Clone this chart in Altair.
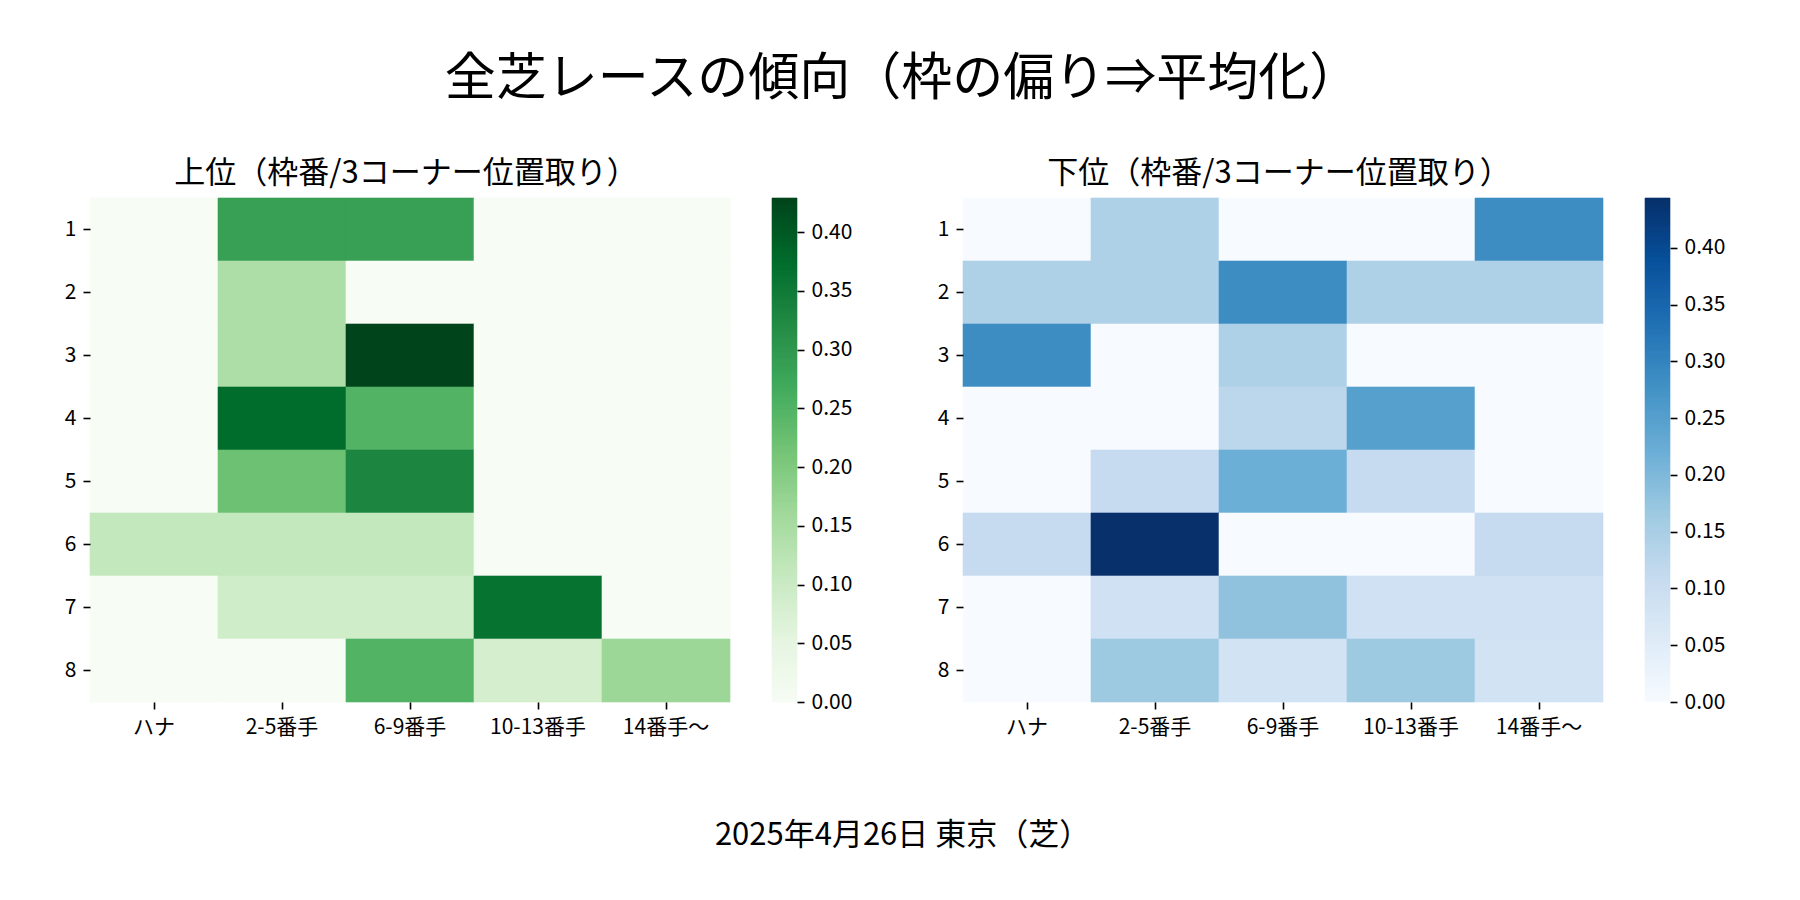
import altair as alt
import pandas as pd

FONT = "Noto Sans CJK JP"

suptitle = "全芝レースの傾向（枠の偏り⇒平均化）"
footer = "2025年4月26日 東京（芝）"
title_top = "上位（枠番/3コーナー位置取り）"
title_bottom = "下位（枠番/3コーナー位置取り）"

frames = ["1", "2", "3", "4", "5", "6", "7", "8"]
positions = ["ハナ", "2-5番手", "6-9番手", "10-13番手", "14番手〜"]

# rows = frame 1..8, columns = positions
top_vals = [
    [0.0, 0.286, 0.286, 0.0, 0.0],
    [0.0, 0.143, 0.0, 0.0, 0.0],
    [0.0, 0.143, 0.429, 0.0, 0.0],
    [0.0, 0.375, 0.250, 0.0, 0.0],
    [0.0, 0.222, 0.333, 0.0, 0.0],
    [0.111, 0.111, 0.111, 0.0, 0.0],
    [0.0, 0.091, 0.091, 0.364, 0.0],
    [0.0, 0.0, 0.250, 0.083, 0.167],
]
bottom_vals = [
    [0.0, 0.143, 0.0, 0.0, 0.286],
    [0.143, 0.143, 0.286, 0.143, 0.143],
    [0.286, 0.0, 0.143, 0.0, 0.0],
    [0.0, 0.0, 0.125, 0.250, 0.0],
    [0.0, 0.111, 0.222, 0.111, 0.0],
    [0.111, 0.444, 0.0, 0.0, 0.111],
    [0.0, 0.091, 0.182, 0.091, 0.091],
    [0.0, 0.167, 0.083, 0.167, 0.083],
]

cbar_ticks_top = [0.0, 0.05, 0.10, 0.15, 0.20, 0.25, 0.30, 0.35, 0.40]
cbar_ticks_bottom = [0.0, 0.05, 0.10, 0.15, 0.20, 0.25, 0.30, 0.35, 0.40]

GREENS = ["#f7fcf5", "#e5f5e0", "#c7e9c0", "#a1d99b", "#74c476",
          "#41ab5d", "#238b45", "#006d2c", "#00441b"]
BLUES = ["#f7fbff", "#deebf7", "#c6dbef", "#9ecae1", "#6baed6",
         "#4292c6", "#2171b5", "#08519c", "#08306b"]

HM_W, HM_H = 640, 504
CB_W = 25


def panel(vals, colors, title, ticks):
    vmax = max(max(r) for r in vals)
    df = pd.DataFrame(
        [{"frame": f, "pos": p, "v": vals[i][j]}
         for i, f in enumerate(frames) for j, p in enumerate(positions)]
    )
    dom = [vmax * k / 8 for k in range(9)]
    cscale = alt.Scale(domain=dom, range=colors, interpolate="rgb")
    hm = alt.Chart(df).mark_rect(strokeWidth=0.6).encode(
        x=alt.X("pos:N", sort=positions,
                scale=alt.Scale(paddingInner=0, paddingOuter=0),
                axis=alt.Axis(title=None, labelAngle=0)),
        y=alt.Y("frame:N", sort=frames,
                scale=alt.Scale(paddingInner=0, paddingOuter=0),
                axis=alt.Axis(title=None)),
        color=alt.Color("v:Q", scale=cscale, legend=None),
        stroke=alt.Stroke("v:Q", scale=cscale, legend=None),
    ).properties(
        width=HM_W, height=HM_H,
        title=alt.TitleParams(title, fontSize=31, font=FONT, fontWeight="normal",
                              anchor="middle", frame="group", baseline="alphabetic",
                              offset=-16, dx=-4, color="#000000"),
    )
    steps = HM_H // 2
    cb_df = pd.DataFrame({
        "lo": [vmax * i / steps for i in range(steps)],
        "hi": [vmax * (i + 1) / steps for i in range(steps)],
        "mid": [vmax * (i + 0.5) / steps for i in range(steps)],
    })
    cb = alt.Chart(cb_df).mark_rect(strokeWidth=0.6).encode(
        x=alt.value(0), x2=alt.value(CB_W),
        y=alt.Y("lo:Q", scale=alt.Scale(domain=[0, vmax], nice=False, zero=False),
                axis=alt.Axis(orient="right", values=ticks, format=".2f", title=None)),
        y2="hi:Q",
        color=alt.Color("mid:Q", scale=cscale, legend=None),
        stroke=alt.Stroke("mid:Q", scale=cscale, legend=None),
    ).properties(width=CB_W, height=HM_H)
    return alt.hconcat(hm, cb, spacing=40).resolve_scale(
        color="independent", stroke="independent", y="independent")


row = alt.hconcat(
    panel(top_vals, GREENS, title_top, cbar_ticks_top),
    panel(bottom_vals, BLUES, title_bottom, cbar_ticks_bottom),
    spacing=85,
).resolve_scale(
    color="independent", stroke="independent", y="independent"
).properties(
    title=alt.TitleParams(footer, orient="bottom", fontSize=31, font=FONT,
                          fontWeight="normal", anchor="middle", frame="bounds",
                          baseline="top", offset=84, dx=8, color="#000000")
)

chart = alt.vconcat(row).properties(
    title=alt.TitleParams(suptitle, fontSize=51, font=FONT, fontWeight="normal",
                          anchor="middle", frame="bounds", baseline="alphabetic",
                          offset=12, dx=8, color="#000000")
).configure(
    padding={"left": 56, "top": 45, "right": 10, "bottom": 10},
    background="white",
).configure_view(stroke=None).configure_axis(
    labelFont=FONT, labelFontSize=21, labelColor="#000000",
    tickColor="#000000", tickSize=7, tickWidth=1.6, labelPadding=7,
    domain=False, grid=False,
)

chart.save("out.html", embed_options={"renderer": "svg", "actions": False})
